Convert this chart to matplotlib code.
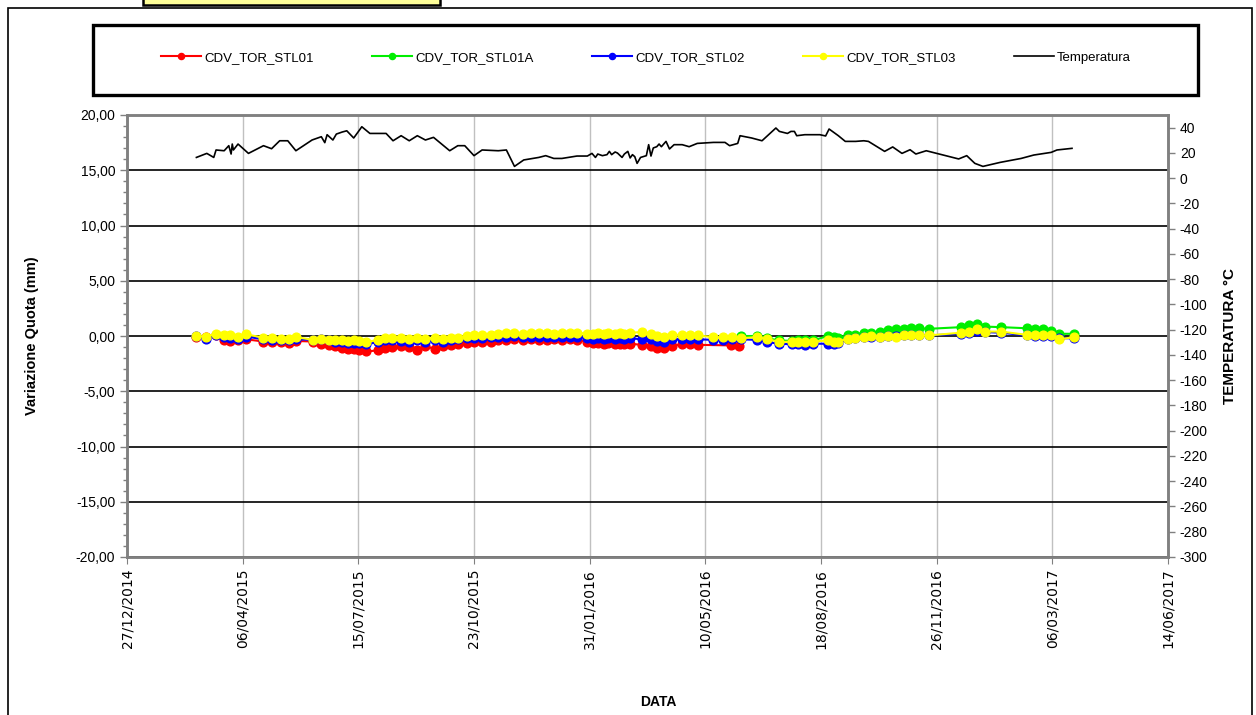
import numpy as np
import matplotlib
matplotlib.use("Agg")
import matplotlib.pyplot as plt
import matplotlib.dates as mdates
from matplotlib.patches import Rectangle
from matplotlib.ticker import MultipleLocator, FuncFormatter

plt.rcParams['font.family'] = ['Liberation Sans', 'DejaVu Sans']
plt.rcParams['axes.unicode_minus'] = False

# --- date di misura, prima campagna (comuni a STL01, STL02, STL03) ---
date_c1 = ["2015-02-25", "2015-03-05", "2015-03-14", "2015-03-21", "2015-03-26", "2015-04-02", "2015-04-09", "2015-04-24",
           "2015-05-01", "2015-05-09", "2015-05-16", "2015-05-22", "2015-06-06", "2015-06-13", "2015-06-20", "2015-06-25",
           "2015-07-01", "2015-07-06", "2015-07-11", "2015-07-16", "2015-07-22", "2015-08-01", "2015-08-07", "2015-08-13",
           "2015-08-21", "2015-08-28", "2015-09-04", "2015-09-11", "2015-09-19", "2015-09-26", "2015-10-03", "2015-10-09",
           "2015-10-17", "2015-10-23", "2015-10-30", "2015-11-07", "2015-11-13", "2015-11-20", "2015-11-27", "2015-12-04",
           "2015-12-11", "2015-12-18", "2015-12-25", "2015-12-31", "2016-01-07", "2016-01-14", "2016-01-20", "2016-01-29",
           "2016-02-03", "2016-02-07", "2016-02-12", "2016-02-16", "2016-02-22", "2016-02-26", "2016-03-01", "2016-03-06",
           "2016-03-16", "2016-03-24", "2016-03-29", "2016-04-04", "2016-04-11", "2016-04-20", "2016-04-27", "2016-05-04"]

# seconda campagna (STL02, STL03; STL01A dal 10/06/2016)
date_c2 = ["2016-05-17", "2016-05-25", "2016-06-02", "2016-06-10", "2016-06-24", "2016-07-02", "2016-07-13", "2016-07-24",
           "2016-07-29", "2016-08-04", "2016-08-11", "2016-08-24", "2016-08-29", "2016-09-02", "2016-09-10", "2016-09-16",
           "2016-09-24", "2016-09-30", "2016-10-08", "2016-10-15", "2016-10-22", "2016-10-29", "2016-11-04", "2016-11-11",
           "2016-11-19", "2016-12-17", "2016-12-24", "2016-12-31", "2017-01-07", "2017-01-21", "2017-02-12", "2017-02-19",
           "2017-02-26", "2017-03-05", "2017-03-12", "2017-03-25"]

date_stl01_tail = ["2016-06-01", "2016-06-08"]

# variazione quota (mm)
stl01_c1 = [-0.05, -0.10, 0.05, -0.35, -0.45, -0.35, -0.30, -0.50,
            -0.50, -0.55, -0.60, -0.45, -0.50, -0.70, -0.85, -0.95,
            -1.05, -1.15, -1.15, -1.25, -1.40, -1.30, -1.10, -1.00,
            -0.95, -1.00, -1.25, -0.95, -1.15, -0.90, -0.80, -0.75,
            -0.60, -0.55, -0.50, -0.55, -0.40, -0.35, -0.25, -0.35,
            -0.30, -0.40, -0.35, -0.30, -0.35, -0.30, -0.35, -0.55,
            -0.65, -0.60, -0.70, -0.65, -0.70, -0.70, -0.75, -0.70,
            -0.80, -0.90, -1.05, -1.10, -0.90, -0.75, -0.75, -0.80]
stl01_tail = [-0.85, -0.95]

stl02_c1 = [0.00, -0.25, 0.05, -0.10, -0.20, -0.25, -0.05, -0.30,
            -0.35, -0.35, -0.40, -0.30, -0.35, -0.30, -0.40, -0.50,
            -0.55, -0.60, -0.60, -0.65, -0.75, -0.55, -0.40, -0.35,
            -0.45, -0.50, -0.40, -0.55, -0.40, -0.50, -0.35, -0.30,
            -0.20, -0.15, -0.20, -0.10, -0.10, -0.05, 0.00, -0.05,
            -0.05, -0.05, -0.10, -0.05, -0.05, -0.05, -0.05, -0.20,
            -0.25, -0.20, -0.25, -0.20, -0.25, -0.20, -0.25, -0.20,
            -0.30, -0.30, -0.45, -0.50, -0.30, -0.30, -0.30, -0.30]
stl02_c2 = [-0.35, -0.40, -0.30, -0.30, -0.35, -0.55, -0.70, -0.75,
            -0.75, -0.80, -0.70, -0.70, -0.75, -0.65, -0.30, -0.20,
            -0.10, -0.05, -0.05, 0.00, 0.00, 0.05, 0.05, 0.05,
            0.05, 0.20, 0.30, 0.45, 0.35, 0.30, 0.05, 0.00,
            0.00, 0.00, -0.20, -0.20]

stl03_c1 = [0.00, -0.05, 0.20, 0.10, 0.10, -0.05, 0.15, -0.15,
            -0.20, -0.25, -0.30, -0.10, -0.35, -0.25, -0.35, -0.40,
            -0.40, -0.45, -0.35, -0.45, -0.55, -0.35, -0.20, -0.15,
            -0.15, -0.25, -0.20, -0.25, -0.20, -0.25, -0.15, -0.15,
            0.00, 0.10, 0.05, 0.10, 0.15, 0.25, 0.30, 0.20,
            0.30, 0.25, 0.25, 0.20, 0.30, 0.30, 0.30, 0.20,
            0.15, 0.25, 0.15, 0.25, 0.15, 0.25, 0.20, 0.30,
            0.35, 0.20, 0.00, -0.10, 0.10, 0.10, 0.10, 0.05]
stl03_c2 = [-0.10, -0.10, -0.10, -0.20, -0.10, -0.25, -0.55, -0.50,
            -0.50, -0.55, -0.50, -0.40, -0.55, -0.50, -0.25, -0.20,
            -0.10, 0.00, -0.10, 0.00, -0.10, 0.10, 0.10, 0.05,
            0.05, 0.30, 0.40, 0.60, 0.40, 0.40, 0.10, 0.05,
            0.05, 0.05, -0.30, -0.10]

stl01a = [0.00, 0.00, -0.20, -0.40, -0.45, -0.40, -0.40, -0.40,
          0.00, -0.05, -0.20, 0.05, 0.10, 0.30, 0.30, 0.35,
          0.50, 0.60, 0.65, 0.70, 0.70, 0.65, 0.80, 1.00,
          1.10, 0.85, 0.80, 0.70, 0.65, 0.60, 0.45, 0.20,
          0.20]

# temperatura (°C)
date_temp = ["2015-02-25", "2015-03-06", "2015-03-12", "2015-03-14", "2015-03-21", "2015-03-25", "2015-03-27", "2015-03-28",
             "2015-03-29", "2015-04-02", "2015-04-11", "2015-04-24", "2015-05-01", "2015-05-08", "2015-05-15", "2015-05-22",
             "2015-06-05", "2015-06-13", "2015-06-16", "2015-06-18", "2015-06-23", "2015-06-26", "2015-07-01", "2015-07-05",
             "2015-07-11", "2015-07-16", "2015-07-18", "2015-07-25", "2015-08-08", "2015-08-14", "2015-08-21", "2015-08-28",
             "2015-09-04", "2015-09-11", "2015-09-18", "2015-10-02", "2015-10-09", "2015-10-15", "2015-10-23", "2015-10-30",
             "2015-11-13", "2015-11-20", "2015-11-27", "2015-12-05", "2015-12-18", "2015-12-24", "2015-12-31", "2016-01-07",
             "2016-01-20", "2016-01-29", "2016-02-02", "2016-02-05", "2016-02-07", "2016-02-11", "2016-02-15", "2016-02-17",
             "2016-02-19", "2016-02-22", "2016-02-24", "2016-02-28", "2016-03-01", "2016-03-04", "2016-03-06", "2016-03-08",
             "2016-03-10", "2016-03-12", "2016-03-15", "2016-03-20", "2016-03-22", "2016-03-24", "2016-03-26", "2016-03-29",
             "2016-03-31", "2016-04-02", "2016-04-06", "2016-04-09", "2016-04-13", "2016-04-20", "2016-04-26", "2016-05-03",
             "2016-05-17", "2016-05-27", "2016-05-31", "2016-06-07", "2016-06-09", "2016-06-19", "2016-06-28", "2016-07-10",
             "2016-07-13", "2016-07-20", "2016-07-23", "2016-07-26", "2016-07-28", "2016-08-04", "2016-08-17", "2016-08-22",
             "2016-08-25", "2016-09-02", "2016-09-08", "2016-09-17", "2016-09-24", "2016-09-28", "2016-10-12", "2016-10-19",
             "2016-10-27", "2016-11-03", "2016-11-08", "2016-11-17", "2016-12-15", "2016-12-22", "2016-12-29", "2017-01-05",
             "2017-01-20", "2017-02-07", "2017-02-18", "2017-03-05", "2017-03-10", "2017-03-23"]
temp = [16.4, 19.6, 16.4, 22.3, 21.7, 25.7, 19.1, 27.0,
        22.3, 27.0, 19.6, 25.7, 23.3, 29.6, 29.6, 21.7,
        30.2, 32.8, 28.1, 34.4, 30.2, 34.9, 36.5, 37.5,
        31.8, 38.1, 40.7, 35.4, 35.4, 29.6, 33.6, 29.6,
        33.6, 30.2, 32.3, 21.7, 25.7, 25.7, 17.8, 22.3,
        21.7, 22.3, 9.3, 14.4, 16.4, 17.8, 15.6, 15.6,
        17.5, 17.5, 19.6, 16.4, 19.1, 17.8, 18.6, 21.2,
        18.6, 20.7, 19.9, 16.4, 19.1, 21.2, 16.0, 18.6,
        17.0, 11.7, 16.4, 17.8, 26.5, 17.5, 23.9, 24.9,
        27.0, 24.9, 29.1, 23.1, 26.5, 26.5, 24.9, 27.5,
        28.3, 28.3, 25.7, 27.5, 33.6, 31.8, 29.6, 39.7,
        37.0, 35.4, 37.0, 37.0, 33.6, 34.4, 34.4, 33.4,
        38.9, 33.6, 29.1, 29.1, 29.6, 29.1, 21.2, 24.7,
        19.6, 22.5, 19.1, 21.7, 15.2, 17.8, 11.7, 9.3,
        12.5, 15.6, 18.3, 20.4, 22.3, 23.6]

d_c1 = np.array(date_c1, dtype="datetime64[D]")
d_c2 = np.array(date_c2, dtype="datetime64[D]")
d_01 = np.concatenate([d_c1, np.array(date_stl01_tail, dtype="datetime64[D]")])
d_t = np.array(date_temp, dtype="datetime64[D]")

fig = plt.figure(figsize=(12.56, 7.15), dpi=100)
ax = fig.add_axes([127 / 1256, 1 - 557 / 715, 1041 / 1256, 442 / 715])
ax2 = ax.twinx()

mk = dict(marker="o", markersize=6.3, linewidth=1.5)
l1, = ax.plot(d_01, stl01_c1 + stl01_tail, color="#FF0000", label="CDV_TOR_STL01", **mk)
l1a, = ax.plot(d_c2[3:], stl01a, color="#00EE00", label="CDV_TOR_STL01A", **mk)
l2, = ax.plot(np.concatenate([d_c1, d_c2]), stl02_c1 + stl02_c2, color="#0000FF", label="CDV_TOR_STL02", **mk)
l3, = ax.plot(np.concatenate([d_c1, d_c2]), stl03_c1 + stl03_c2, color="#FFFF00", label="CDV_TOR_STL03", **mk)
lt, = ax2.plot(d_t, temp, color="black", linewidth=1.2, label="Temperatura")

# assi
t0 = mdates.datestr2num("2014-12-27")
t1 = mdates.datestr2num("2017-06-14")
ax.set_xlim(t0, t1)
ax.set_xticks(np.arange(t0, t1 + 1, 100))
ax.xaxis.set_major_formatter(mdates.DateFormatter("%d/%m/%Y"))
for lab in ax.get_xticklabels():
    lab.set_rotation(90)
    lab.set_fontfamily("DejaVu Sans")
    lab.set_fontsize(10)

ax.set_ylim(-20, 20)
ax.yaxis.set_major_locator(MultipleLocator(5))
ax.yaxis.set_minor_locator(MultipleLocator(1))
ax.yaxis.set_major_formatter(FuncFormatter(lambda v, p: f"{(0.0 if abs(v) < 1e-9 else v):.2f}".replace(".", ",")))
ax.tick_params(axis="y", labelsize=10, length=5, width=1, color="#808080")
ax.tick_params(axis="y", which="minor", length=3, width=1, color="#808080")
ax.tick_params(axis="x", length=5, color="#808080")

ax2.set_ylim(-300, 50)
ax2.set_yticks(np.arange(-300, 41, 20))
ax2.tick_params(axis="y", labelsize=10, length=5, width=1, color="#808080")

ax.set_axisbelow(True)
ax.yaxis.grid(True, color="black", linewidth=1.2)
ax.xaxis.grid(True, color="#C0C0C0", linewidth=1)
for a in (ax, ax2):
    for s in a.spines.values():
        s.set_color("#808080")
        s.set_linewidth(1.8)

ax.set_ylabel("Variazione Quota (mm)", fontsize=10.5, fontweight="bold")
ax.yaxis.set_label_coords(-0.085, 0.5)
ax2.set_ylabel("TEMPERATURA °C", fontsize=11, fontweight="bold")
ax2.yaxis.set_label_coords(1.053, 0.5)
ax.set_xlabel("DATA", fontsize=10, fontweight="bold")
ax.xaxis.set_label_coords(0.51, -0.312)

# legenda
fig.legend(handles=[l1, l1a, l2, l3, lt], loc="center", bbox_to_anchor=(646 / 1256, 1 - 58 / 715),
           ncol=5, frameon=False, fontsize=9.5, handlelength=3.0, handletextpad=0.25,
           columnspacing=4.45, numpoints=1, markerscale=0.7)

# cornici
fig.patches.append(Rectangle((93 / 1256, 1 - 95 / 715), 1105 / 1256, 70 / 715, transform=fig.transFigure,
                             fill=False, edgecolor="black", linewidth=2.4))
fig.patches.append(Rectangle((8 / 1256, -0.05), 1244 / 1256, 1.05 - 8 / 715, transform=fig.transFigure,
                             fill=False, edgecolor="black", linewidth=1.2))
fig.patches.append(Rectangle((143 / 1256, 1 - 5 / 715), 297 / 1256, 0.03, transform=fig.transFigure,
                             facecolor="#FFFF99", edgecolor="black", linewidth=1.8))

fig.savefig("out.png", dpi=100)
